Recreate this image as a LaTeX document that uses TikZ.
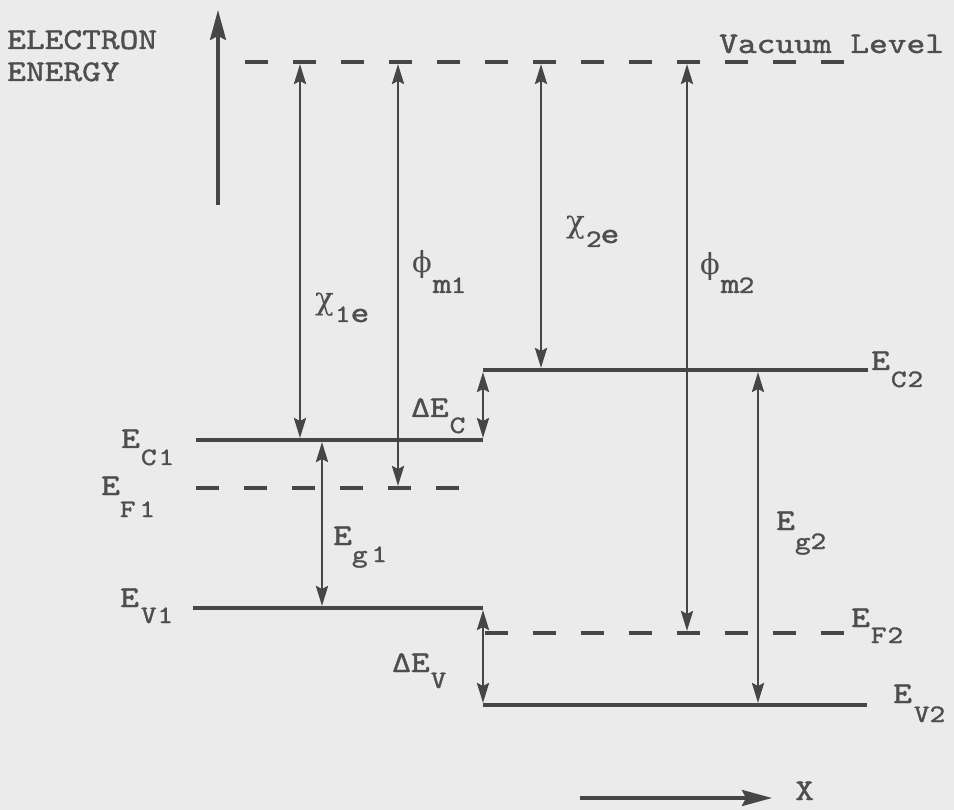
\documentclass[tikz,border=0pt]{standalone}
\usepackage{fontspec}
\usetikzlibrary{arrows.meta}
\newfontfamily\tw{lmmono10-regular.otf}[FakeBold=1.4, FakeStretch=1.19]
\newfontfamily\gk{DejaVu Serif}
\definecolor{ink}{HTML}{464646}
\definecolor{txt}{HTML}{4E4E4E}
\definecolor{paper}{HTML}{EBEBEB}
\newcommand\mainsz{\fontsize{30}{32}\selectfont}
\newcommand\subsz{\fontsize{25}{26}\selectfont}
\newcommand\dn[2]{\raisebox{-#1pt}{#2}}
\newcommand\phig{{\gk\fontsize{29}{29}\selectfont ϕ}}
\newcommand\chig{{\gk\fontsize{31}{31}\selectfont χ}}
\tikzset{
  lbl/.style={inner sep=0pt, anchor=base west, text=txt, font=\tw\mainsz},
  lvl/.style={draw=ink, line width=4pt},
  dlvl/.style={lvl, dash pattern=on 23pt off 25pt},
  darr/.style={draw=ink, line width=2.8pt,
    {Stealth[length=20pt,width=12pt,inset=3pt]}-{Stealth[length=20pt,width=12pt,inset=3pt]},
    shorten <=2pt, shorten >=2pt},
  axarr/.style={draw=ink, line width=3.2pt, -{Stealth[length=30pt,width=16pt,inset=4pt]}}
}
\begin{document}
\begin{tikzpicture}[x=1pt,y=-1pt]
\fill[paper] (0,0) rectangle (954,810);
\useasboundingbox (0,0) rectangle (954,810);
% level end points
\coordinate (vacL) at (245,62);  \coordinate (vacR) at (847,62);
\coordinate (ec1L) at (196,440); \coordinate (ec1R) at (483,440);
\coordinate (ef1L) at (196,488); \coordinate (ef1R) at (460,488);
\coordinate (ev1L) at (193,608); \coordinate (ev1R) at (483,608);
\coordinate (ec2L) at (483,370); \coordinate (ec2R) at (868,370);
\coordinate (ef2L) at (485,633); \coordinate (ef2R) at (845,633);
\coordinate (ev2L) at (483,705); \coordinate (ev2R) at (867,705);
% arrow end points
\coordinate (chi1T) at (300,62); \coordinate (chi1B) at (300,440);
\coordinate (phi1T) at (398,62); \coordinate (phi1B) at (398,488);
\coordinate (chi2T) at (541,62); \coordinate (chi2B) at (541,370);
\coordinate (phi2T) at (687,62); \coordinate (phi2B) at (687,633);
\coordinate (eg1T) at (322,440); \coordinate (eg1B) at (322,608);
\coordinate (dcT) at (483,370);  \coordinate (dcB) at (483,440);
\coordinate (dvT) at (483,608);  \coordinate (dvB) at (483,705);
\coordinate (eg2T) at (758,370); \coordinate (eg2B) at (758,705);
\coordinate (eaxB) at (218,205); \coordinate (eaxT) at (218,10);
\coordinate (xaxL) at (580,798); \coordinate (xaxR) at (772,798);
% levels
\draw[dlvl] (vacL) -- (vacR);
\draw[lvl] (ec1L) -- (ec1R);
\draw[dlvl] (ef1L) -- (ef1R);
\draw[lvl] (ev1L) -- (ev1R);
\draw[lvl] (ec2L) -- (ec2R);
\draw[dlvl] (ef2L) -- (ef2R);
\draw[lvl] (ev2L) -- (ev2R);
% arrows
\draw[darr] (chi1T) -- (chi1B);
\draw[darr] (phi1T) -- (phi1B);
\draw[darr] (chi2T) -- (chi2B);
\draw[darr] (phi2T) -- (phi2B);
\draw[darr] (eg1T) -- (eg1B);
\draw[darr] (dcT) -- (dcB);
\draw[darr] (dvT) -- (dvB);
\draw[darr] (eg2T) -- (eg2B);
\draw[axarr] (eaxB) -- (eaxT);
\draw[axarr] (xaxL) -- (xaxR);
% labels
\node[lbl] (el) at (7,49) {ELECTRON};
\node[lbl] (en) at (7,81) {ENERGY};
\node[lbl] (vac) at (719,53) {Vacuum Level};
\node[lbl] (xl) at (795,800) {X};
\node[lbl] (lchi1) at (315,310) {\chig\kern1pt\dn{12}{\subsz 1}\dn{12}{e}};
\node[lbl] (lchi2) at (566,233) {\chig\kern1pt\dn{14}{\subsz 2}\kern-1pt\dn{10}{e}};
\node[lbl] (lphi1) at (412,273) {\phig\kern1pt\dn{20}{m\kern-1pt\subsz 1}};
\node[lbl] (lphi2) at (700,275) {\phig\kern1pt\dn{18}{m\kern-1pt\subsz 2}};
\node[lbl] (ldc) at (411,417) {ΔE\kern1pt\dn{16}{\subsz C}};
\node[lbl] (ldv) at (392,672) {ΔE\kern1pt\dn{16}{\subsz V}};
\node[lbl] (leg1) at (333,545) {E\dn{17}{\subsz g\kern4pt{}1}};
\node[lbl] (leg2) at (776,530) {E\dn{19}{\subsz g\kern0pt{}2}};
\node[lbl] (lec1) at (121,448) {E\kern1pt\dn{17}{\subsz C\kern2pt{}1}};
\node[lbl] (lef1) at (101,495) {E\dn{22}{\subsz F\kern4pt{}1}};
\node[lbl] (lev1) at (120,607) {E\kern2pt\dn{16}{\subsz V\kern1pt{}1}};
\node[lbl] (lec2) at (871,370) {E\kern1pt\dn{17}{\subsz C\kern1pt{}2}};
\node[lbl] (lef2) at (851,627) {E\kern1pt\dn{16}{\subsz F\kern1pt{}2}};
\node[lbl] (lev2) at (893,703) {E\kern2pt\dn{19}{\subsz V\kern0pt{}2}};
\end{tikzpicture}
\end{document}
